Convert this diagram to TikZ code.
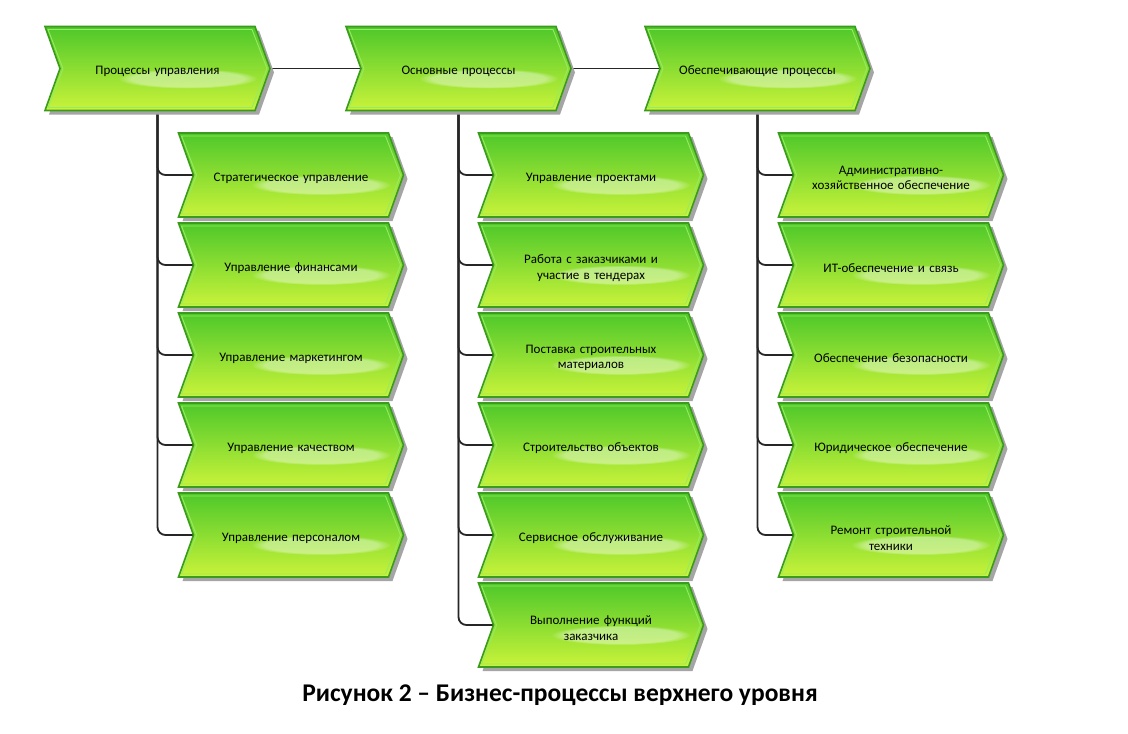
\documentclass[tikz,border=0pt]{standalone}
\usepackage{fontspec}
\setmainfont{Carlito}
\usetikzlibrary{fadings}
\pgfdeclarelayer{background}
\pgfsetlayers{background,main}
\definecolor{gtop}{RGB}{78,200,42}
\definecolor{gmid}{RGB}{120,218,44}
\definecolor{gbot}{RGB}{202,243,58}
\definecolor{gborder}{RGB}{58,155,28}
\definecolor{gbevel}{RGB}{150,235,100}
\definecolor{gshadow}{RGB}{165,165,165}
\tikzset{
  chevtext/.style={minimum width=225pt, minimum height=84pt, inner sep=0pt,
    align=center, text width=190pt, font=\fontsize{13}{15.5}\selectfont},
  chevfill/.style={top color=gtop, middle color=gmid, bottom color=gbot,
    draw=gborder, line width=1.6pt, line join=miter},
  chevshadow/.style={fill=gshadow},
  chevbevel/.style={draw=gbevel, line width=0.9pt},
  link/.style={draw=black!85, line width=1.8pt, rounded corners=8pt},
}
% #1 centre name, #2 offset, #3 half-width, #4 half-height, #5 inset
\newcommand\chevpath[5]{%
  ([shift={(-#3+#2+#5,-#4+#2+#5)}]#1) --
  ([shift={(#3-15+#2-#5,-#4+#2+#5)}]#1) --
  ([shift={(#3+#2-#5,#2)}]#1) --
  ([shift={(#3-15+#2-#5,#4+#2-#5)}]#1) --
  ([shift={(-#3+#2+#5,#4+#2-#5)}]#1) --
  ([shift={(-#3+15+#2+#5,#2)}]#1) -- cycle}
\newcommand\chev[4]{%
  \coordinate (#1-c) at (#2,#3);
  \path[chevshadow] \chevpath{#1-c}{4}{112.5}{42}{0};
  \path[chevfill] \chevpath{#1-c}{0}{112.5}{42}{0};
  \path[chevbevel] \chevpath{#1-c}{0}{112.5}{42}{3};
  \fill[white, path fading=circle with fuzzy edge 20 percent, fill opacity=0.4]
    ([shift={(30,10)}]#1-c) ellipse [x radius=70pt, y radius=10pt];
  \node[chevtext] (#1) at (#2,#3) {};
  \node[chevtext, minimum height=0pt] (#1-t) at ([yshift=-3pt]#1.center) {#4};
  \coordinate (#1-in) at ([xshift=15pt]#1.west);
}
\begin{document}
\begin{tikzpicture}[x=1pt,y=-1pt]
\useasboundingbox (0,0) rectangle (1128,734);

% top level
\chev{p1}{157.5}{68.5}{Процессы управления}
\chev{p2}{458.5}{68.5}{Основные процессы}
\chev{p3}{757.5}{68.5}{Обеспечивающие процессы}

% column 1
\chev{a1}{291}{175}{Стратегическое управление}
\chev{a2}{291}{265}{Управление финансами}
\chev{a3}{291}{355}{Управление маркетингом}
\chev{a4}{291}{445}{Управление качеством}
\chev{a5}{291}{535}{Управление персоналом}

% column 2
\chev{b1}{591}{175}{Управление проектами}
\chev{b2}{591}{265}{Работа с заказчиками и\\участие в тендерах}
\chev{b3}{591}{355}{Поставка строительных\\материалов}
\chev{b4}{591}{445}{Строительство объектов}
\chev{b5}{591}{535}{Сервисное обслуживание}
\chev{b6}{591}{625}{Выполнение функций\\заказчика}

% column 3
\chev{c1}{891}{175}{Административно-\\хозяйственное обеспечение}
\chev{c2}{891}{265}{ИТ-обеспечение и связь}
\chev{c3}{891}{355}{Обеспечение безопасности}
\chev{c4}{891}{445}{Юридическое обеспечение}
\chev{c5}{891}{535}{Ремонт строительной\\техники}

% connectors (beneath the boxes)
\begin{pgfonlayer}{background}
  \fill[white] (0,0) rectangle (1128,734);
  \draw[link] (p1.east) -- (p2-in);
  \draw[link] (p2.east) -- (p3-in);
  \foreach \k in {a1,a2,a3,a4,a5} \draw[link] (p1.south) |- (\k-in);
  \foreach \k in {b1,b2,b3,b4,b5,b6} \draw[link] (p2.south) |- (\k-in);
  \foreach \k in {c1,c2,c3,c4,c5} \draw[link] (p3.south) |- (\k-in);
\end{pgfonlayer}

\node[font=\bfseries\fontsize{25.5}{30}\selectfont] (cap) at (560,695)
  {Рисунок 2 – Бизнес-процессы верхнего уровня};
\end{tikzpicture}
\end{document}
